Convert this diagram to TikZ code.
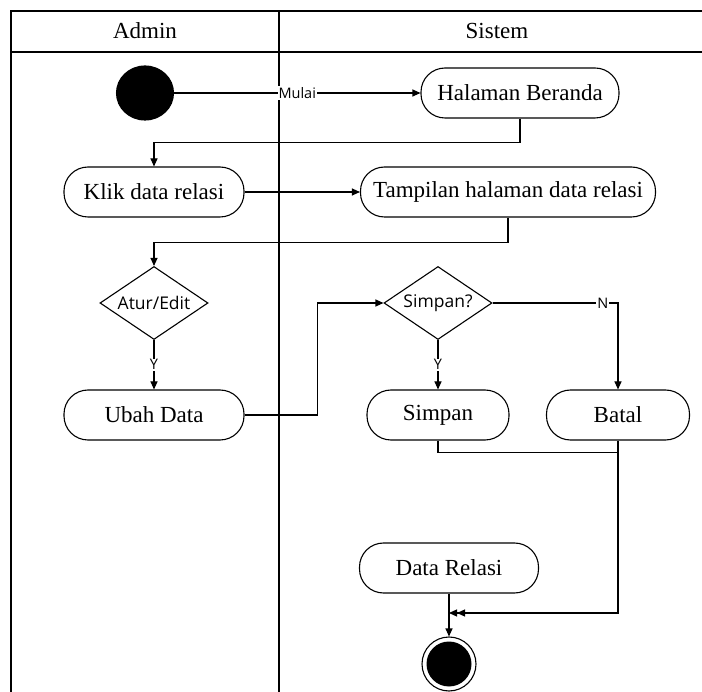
\documentclass[tikz,border=0pt]{standalone}
\usepackage{fontspec}
\setmainfont{Liberation Serif}
\newfontfamily\ketfont{Open Sans}
\usepackage{tikz}
\usetikzlibrary{shapes.geometric, arrows.meta}

\begin{document}
\begin{tikzpicture}[
    x=1pt, y=-1pt,
    line width=1.1pt,
    >={Triangle[length=8pt, width=7pt]},
    every node/.style={inner sep=0pt, font=\fontsize{23}{25}\selectfont}
]
\tikzset{
    aksi/.style={draw, rectangle, rounded corners=24pt, minimum height=50pt},
    keputusan/.style={draw, diamond, shape aspect=1.5, minimum width=108pt,
        minimum height=73pt, font=\ketfont\fontsize{17.5}{19}\selectfont},
    ket/.style={fill=white, inner sep=1pt, font=\ketfont\fontsize{14.5}{15}\selectfont}
}
\useasboundingbox (0,0) rectangle (702,692);

% jalur (swimlane)
\draw[line width=1.3pt] (11,692) -- (11,11) -- (702,11);
\draw[line width=1.3pt] (11,52) -- (702,52);
\draw[line width=1.3pt] (279,11) -- (279,692);
\node (admin) at (145,31) {Admin};
\node (sistem) at (497,31) {Sistem};

% simpul
\node[draw, fill=black, ellipse, minimum width=57pt, minimum height=54pt] (awal) at (145,93) {};
\node[aksi, minimum width=198pt] (beranda) at (520,93) {Halaman Beranda};
\node[aksi, minimum width=180pt] (klik) at (154,192) {Klik data relasi};
\node[aksi, minimum width=295pt] (tampil) at (508,192) {Tampilan halaman data relasi};
\node[keputusan] (atur) at (154,303) {Atur/Edit};
\node[aksi, minimum width=180pt] (ubah) at (154,415) {Ubah Data};
\node[keputusan] (cek) at (438,303) {Simpan?};
\node[aksi, minimum width=142pt] (simpan) at (438,415) {Simpan};
\node[aksi, minimum width=143pt] (batal) at (618,415) {Batal};
\node[aksi, minimum width=179pt] (data) at (449,568) {Data Relasi};
\node[draw, circle, minimum size=54pt] (akhir) at (449,664) {};
\fill (akhir.center) circle (22.5pt);
\coordinate (gabung) at (449,613);

% alur
\draw[->] (awal) -- node[ket] {Mulai} (beranda);
\draw[->] (beranda.south) -- ++(0,24) -| (klik.north);
\draw[->] (klik) -- (tampil);
\draw[->] (tampil.south) -- ++(0,25) -| (atur.north);
\draw[->] (atur) -- node[ket] {Y} (ubah);
\draw[->] (ubah.east) -- ++(73,0) |- (cek.west);
\draw[->] (cek.east) -| node[ket, pos=0.44] {N} (batal.north);
\draw[->] (cek) -- node[ket] {Y} (simpan);
\draw (simpan.south) -- ++(0,12) -| (batal.south);
\draw[-{Triangle[length=8pt, width=7pt] Triangle[length=8pt, width=7pt]}] (batal.south) |- (gabung);
\draw[->] (data) -- (akhir);
\end{tikzpicture}
\end{document}
